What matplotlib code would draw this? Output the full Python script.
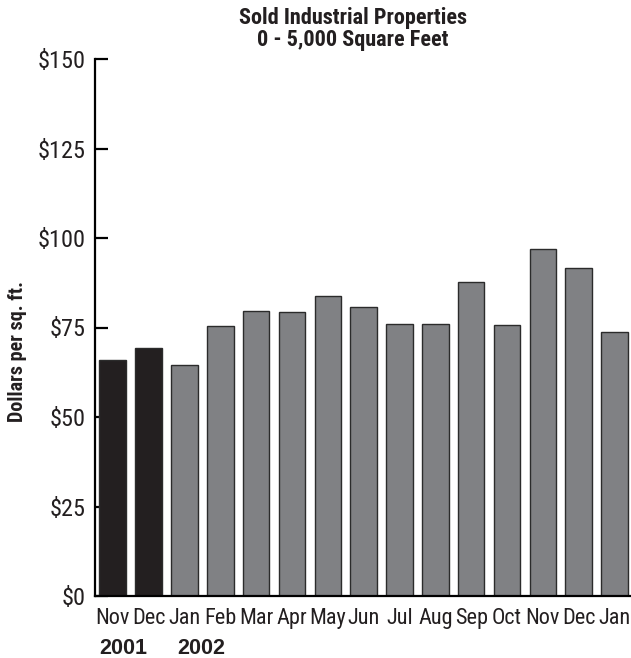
#!/usr/bin/env python3
"""
Sold Industrial Properties 0 - 5,000 sq ft, bar chart of dollars per sq. ft.
"""

import matplotlib
matplotlib.use('Agg')
import matplotlib.pyplot as plt
from matplotlib import font_manager
from matplotlib.ticker import FuncFormatter

# narrow font like Helvetica Condensed
names = {f.name for f in font_manager.fontManager.ttflist}
narrow = [n for n in ['Liberation Sans Narrow', 'Roboto Condensed', 'Open Sans Condensed']
          if n in names]
plt.rcParams['font.family'] = narrow + ['DejaVu Sans']
plt.rcParams['font.stretch'] = 'condensed'

# data
months = ['Nov', 'Dec', 'Jan', 'Feb', 'Mar', 'Apr', 'May', 'Jun',
          'Jul', 'Aug', 'Sep', 'Oct', 'Nov', 'Dec', 'Jan']
values = [65.9, 69.3, 64.6, 75.5, 79.5, 79.3, 83.8, 80.6,
          76.1, 76.1, 87.7, 75.8, 96.9, 91.7, 73.7]
years = ['2001', '2002']
year_pos = [0, 2]          # index of the first month of each year
year_shift = [-0.38, -0.21]  # left edge of the label, relative to bar centre
n_dark = 2  # first two bars are 2001

DARK = '#231f20'
GRAY = '#808184'
EDGE = '#2b2b2b'

fig = plt.figure(figsize=(6.31, 6.58), dpi=100)
ax = fig.add_axes([95 / 631, (658 - 596) / 658, 535 / 631, 537 / 658])

x = list(range(len(months)))
colors = [DARK if i < n_dark else GRAY for i in x]
ax.bar(x, values, width=0.74, color=colors, edgecolor=EDGE, linewidth=1.0, zorder=2)

ax.set_xlim(-0.494, len(months) - 1 + 0.43)
ax.set_ylim(0, 150)
ax.set_yticks(range(0, 151, 25))
ax.yaxis.set_major_formatter(FuncFormatter(lambda v, p: f'${v:.0f}'))

for s in ['top', 'right']:
    ax.spines[s].set_visible(False)
for s in ['left', 'bottom']:
    ax.spines[s].set_linewidth(1.6)
    ax.spines[s].set_color('black')

ax.tick_params(axis='y', direction='in', length=9, width=1.6, pad=7, labelsize=17.5,
               labelcolor='#231f20')
ax.set_xticks(x)
ax.set_xticklabels(months)
ax.tick_params(axis='x', length=0, pad=8.5, labelsize=16, labelcolor='#231f20')

# year labels under the first month of each year (wide bold face)
for yr, i, dx in zip(years, year_pos, year_shift):
    ax.text(i + dx, -0.097, yr, transform=ax.get_xaxis_transform(),
            ha='left', va='center', fontsize=15.5, fontweight='bold',
            family=['Liberation Sans', 'DejaVu Sans'], fontstretch='normal',
            color='#231f20')

fig.text(18 / 631, 1 - 351 / 658, 'Dollars per sq. ft.', rotation=90,
         ha='center', va='center', fontsize=14.5, fontweight='bold', color='#231f20')

fig.text(353 / 631, 1 - 29 / 658, 'Sold Industrial Properties\n0 - 5,000 Square Feet',
         ha='center', va='center', fontsize=16, fontweight='bold',
         color='#231f20', linespacing=1.02)

fig.savefig('out.png', dpi=100)
